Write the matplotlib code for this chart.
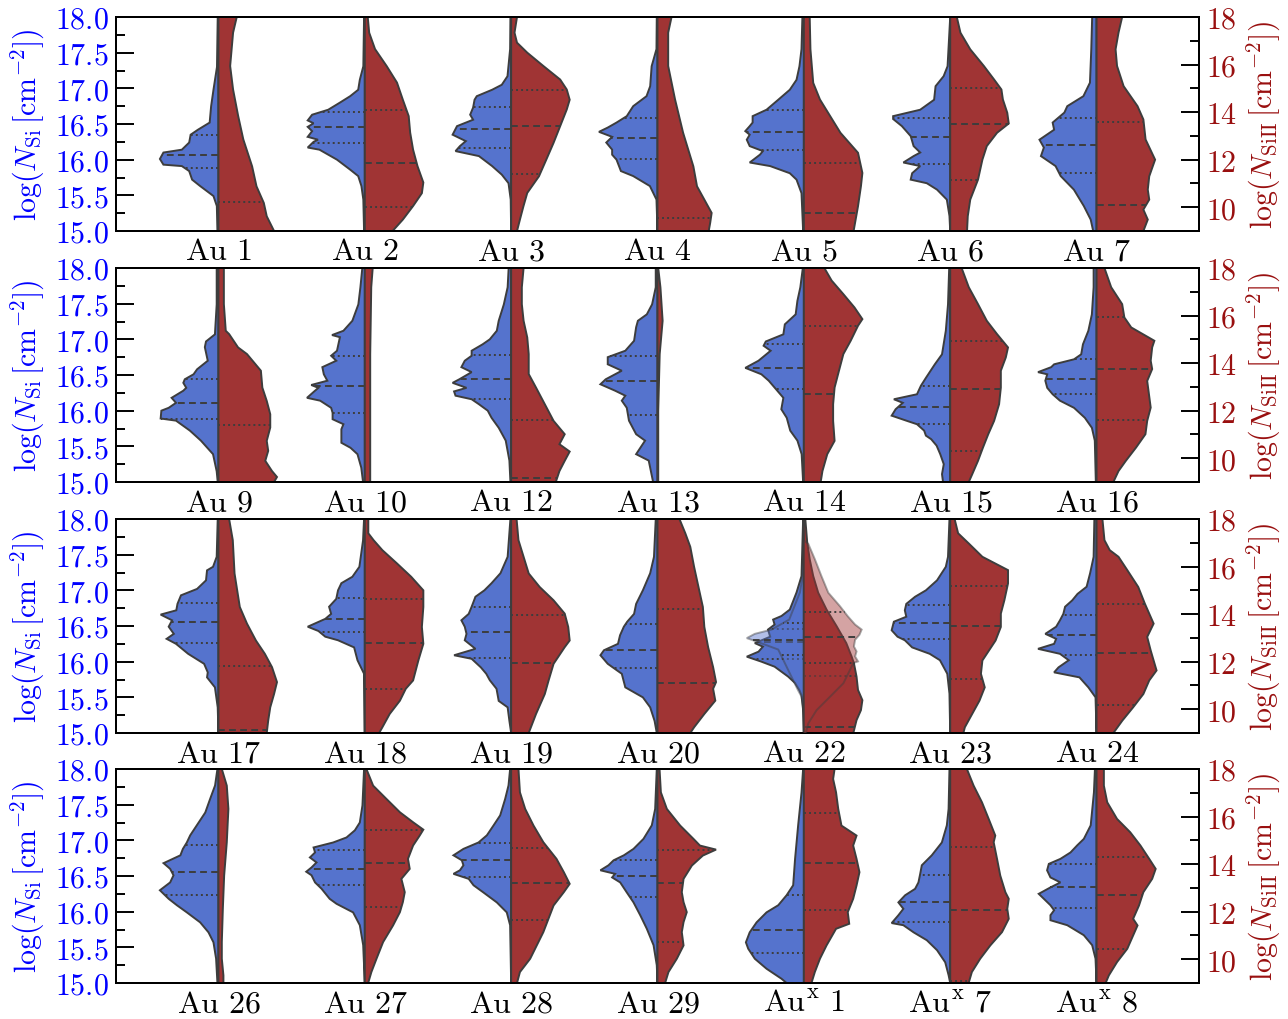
import numpy as np
import matplotlib.pyplot as plt
from matplotlib.ticker import MultipleLocator, FormatStrFormatter

plt.rcParams['mathtext.fontset'] = 'cm'
plt.rcParams['font.family'] = 'serif'
plt.rcParams['font.serif'] = ['DejaVu Serif']

nan = np.nan

# ---- violin outlines: (log N, half width) ----
# Si I in log N_SI (left axis), Si II in log N_SiII (right axis)
# quartiles: (q1, median, q3), nan where outside the axis range

au1_si = [(18.0,0.005),(17.3,0.01),(16.98,0.034),(16.75,0.05),(16.52,0.06),(16.42,0.14),(16.35,0.19),(16.24,0.2),(16.14,0.25),(16.10,0.376),(16.01,0.40),(15.93,0.376),(15.91,0.25),(15.84,0.2),(15.72,0.18),(15.63,0.125),(15.49,0.034),(15.35,0.011),(15.0,0.007)]
au1_si_q = (15.88, 16.06, 16.34)
au1_siii = [(18.0,0.125),(17.34,0.10),(15.94,0.08),(14.95,0.10),(13.83,0.135),(12.85,0.17),(11.72,0.23),(10.88,0.26),(10.18,0.31),(9.62,0.33),(9.0,0.38)]
au1_siii_q = (nan, nan, 10.2)

au2_si = [(18.0,0.005),(17.31,0.01),(17.12,0.034),(16.98,0.045),(16.89,0.10),(16.80,0.17),(16.70,0.25),(16.63,0.36),(16.55,0.39),(16.51,0.35),(16.46,0.39),(16.40,0.36),(16.32,0.39),(16.28,0.32),(16.25,0.35),(16.17,0.39),(16.14,0.31),(16.00,0.19),(15.86,0.10),(15.77,0.045),(15.63,0.023),(15.44,0.01),(15.0,0.005)]
au2_si_q = (16.24, 16.46, 16.67)
au2_siii = [(18.0,0.02),(17.34,0.03),(16.65,0.07),(15.93,0.15),(15.24,0.22),(14.52,0.26),(13.83,0.30),(13.14,0.31),(12.42,0.33),(11.73,0.36),(11.04,0.40),(10.59,0.39),(10.05,0.33),(9.48,0.26),(9.0,0.19)]
au2_siii_q = (10.02, 11.85, 14.1)

au3_si = [(18.0,0.005),(17.55,0.007),(17.17,0.025),(17.05,0.064),(16.98,0.13),(16.89,0.235),(16.84,0.25),(16.73,0.26),(16.63,0.28),(16.56,0.26),(16.47,0.37),(16.35,0.40),(16.26,0.31),(16.19,0.35),(16.12,0.38),(16.05,0.22),(15.91,0.13),(15.79,0.064),(15.67,0.018),(15.44,0.003),(15.0,0.0)]
au3_si_q = (16.17, 16.43, 16.74)
au3_siii = [(18.0,0.04),(17.34,0.023),(16.92,0.04),(16.50,0.11),(15.94,0.22),(15.37,0.335),(14.95,0.38),(14.52,0.40),(14.11,0.38),(13.41,0.335),(12.71,0.29),(12.0,0.24),(11.30,0.19),(10.60,0.11),(10.04,0.084),(9.48,0.06),(9.0,0.04)]
au3_siii_q = (11.40, 13.41, 14.91)

au4_si = [(18.0,0.005),(17.55,0.007),(17.31,0.04),(17.03,0.05),(16.89,0.075),(16.75,0.166),(16.61,0.21),(16.52,0.28),(16.45,0.34),(16.39,0.40),(16.32,0.31),(16.24,0.35),(16.14,0.31),(16.07,0.31),(16.0,0.28),(15.84,0.25),(15.77,0.166),(15.63,0.052),(15.44,0.007),(15.0,0.0)]
au4_si_q = (16.01, 16.30, 16.58)
au4_siii = [(18.0,0.096),(17.34,0.073),(15.94,0.073),(14.53,0.12),(13.13,0.175),(11.72,0.245),(10.88,0.27),(10.32,0.32),(9.76,0.37),(9.34,0.36),(9.0,0.35)]
au4_siii_q = (nan, nan, 9.53)

au5_si = [(18.0,0.01),(17.55,0.016),(17.31,0.03),(17.12,0.05),(16.98,0.096),(16.84,0.175),(16.70,0.255),(16.61,0.35),(16.52,0.35),(16.47,0.37),(16.40,0.40),(16.35,0.37),(16.28,0.39),(16.19,0.37),(16.12,0.28),(16.07,0.30),(15.96,0.37),(15.91,0.23),(15.81,0.096),(15.72,0.05),(15.53,0.016),(15.0,0.005)]
au5_si_q = (16.13, 16.39, 16.69)
au5_siii = [(18.0,0.04),(16.64,0.045),(15.23,0.064),(14.53,0.11),(13.83,0.18),(13.13,0.25),(12.71,0.31),(12.29,0.37),(11.44,0.40),(10.88,0.39),(10.04,0.37),(9.0,0.34)]
au5_siii_q = (nan, 9.76, 11.84)

au6_si = [(18.0,0.0),(17.31,0.018),(17.17,0.045),(17.03,0.10),(16.84,0.11),(16.70,0.205),(16.61,0.39),(16.57,0.39),(16.47,0.33),(16.33,0.27),(16.19,0.25),(16.10,0.205),(16.05,0.25),(15.96,0.32),(15.91,0.205),(15.81,0.26),(15.72,0.27),(15.67,0.16),(15.58,0.09),(15.44,0.023),(15.21,0.005),(15.0,0.0)]
au6_si_q = (15.94, 16.32, 16.58)
au6_siii = [(18.0,0.045),(17.34,0.07),(16.64,0.137),(15.94,0.23),(15.37,0.30),(14.95,0.35),(14.53,0.36),(13.97,0.39),(13.52,0.40),(13.13,0.32),(12.57,0.25),(12.0,0.22),(11.16,0.19),(10.32,0.137),(9.62,0.12),(9.0,0.115)]
au6_siii_q = (11.16, 13.52, 15.0)

au7_si = [(18.0,0.03),(17.55,0.036),(17.08,0.045),(16.89,0.09),(16.75,0.20),(16.66,0.22),(16.52,0.30),(16.42,0.29),(16.35,0.34),(16.28,0.39),(16.17,0.36),(16.05,0.38),(15.91,0.28),(15.77,0.245),(15.58,0.155),(15.35,0.087),(15.16,0.04),(15.0,0.023)]
au7_si_q = (15.81, 16.20, 16.59)
au7_siii = [(18.0,0.175),(17.34,0.15),(16.64,0.13),(15.94,0.14),(15.09,0.185),(14.25,0.28),(13.69,0.32),(12.85,0.335),(12.0,0.40),(11.30,0.36),(10.74,0.35),(10.32,0.36),(9.90,0.32),(9.48,0.35),(9.0,0.32)]
au7_siii_q = (nan, 10.11, 13.58)

au9_si = [(18.0,0.012),(17.49,0.012),(17.07,0.024),(16.97,0.085),(16.89,0.093),(16.70,0.073),(16.58,0.146),(16.51,0.17),(16.44,0.23),(16.39,0.24),(16.32,0.22),(16.28,0.24),(16.18,0.32),(16.11,0.29),(16.04,0.34),(16.0,0.39),(15.89,0.395),(15.86,0.29),(15.72,0.195),(15.58,0.12),(15.39,0.037),(15.15,0.012),(15.0,0.005)]
au9_si_q = (15.89, 16.11, 16.45)
au9_siii = [(18.0,0.037),(16.48,0.037),(15.36,0.05),(15.22,0.073),(14.66,0.134),(14.38,0.195),(13.68,0.29),(12.97,0.30),(12.41,0.33),(11.85,0.354),(11.29,0.354),(10.73,0.33),(10.31,0.34),(9.89,0.32),(9.46,0.366),(9.21,0.40),(9.0,0.38)]
au9_siii_q = (nan, nan, 11.39)

au10_si = [(18.0,0.017),(17.73,0.03),(17.49,0.044),(17.26,0.085),(17.12,0.146),(17.06,0.224),(17.03,0.17),(16.84,0.19),(16.77,0.23),(16.70,0.195),(16.61,0.29),(16.51,0.28),(16.42,0.256),(16.36,0.366),(16.32,0.317),(16.28,0.34),(16.18,0.395),(16.14,0.305),(16.04,0.23),(15.97,0.22),(15.88,0.22),(15.81,0.146),(15.74,0.16),(15.55,0.16),(15.48,0.098),(15.39,0.05),(15.20,0.024),(15.0,0.012)]
au10_si_q = (15.97, 16.34, 16.77)
au10_siii = [(18.0,0.054),(17.19,0.044),(14.38,0.037),(11.57,0.037),(9.0,0.037)]
au10_siii_q = (nan, nan, nan)

au12_si = [(18.0,0.017),(17.73,0.024),(17.49,0.05),(17.26,0.085),(17.12,0.098),(17.0,0.146),(16.93,0.195),(16.84,0.27),(16.77,0.27),(16.70,0.317),(16.61,0.34),(16.54,0.27),(16.44,0.354),(16.39,0.40),(16.32,0.305),(16.27,0.39),(16.21,0.38),(16.16,0.27),(16.09,0.22),(16.0,0.16),(15.90,0.134),(15.76,0.085),(15.58,0.037),(15.30,0.012),(15.0,0.005)]
au12_si_q = (16.16, 16.45, 16.78)
au12_siii = [(18.0,0.085),(17.19,0.073),(16.48,0.073),(15.78,0.085),(15.08,0.11),(14.38,0.12),(13.54,0.12),(12.97,0.17),(12.27,0.23),(11.57,0.29),(11.01,0.366),(10.59,0.33),(10.28,0.40),(9.89,0.366),(9.46,0.33),(9.0,0.305)]
au12_siii_q = (nan, 9.18, 11.61)

au13_si = [(18.0,0.012),(17.73,0.012),(17.49,0.037),(17.35,0.073),(17.26,0.134),(17.17,0.146),(16.98,0.16),(16.84,0.22),(16.75,0.34),(16.65,0.34),(16.56,0.244),(16.44,0.354),(16.37,0.39),(16.28,0.29),(16.21,0.22),(16.14,0.244),(16.04,0.21),(15.86,0.195),(15.67,0.146),(15.58,0.085),(15.39,0.146),(15.30,0.06),(15.0,0.03)]
au13_si_q = (15.94, 16.42, 16.76)
au13_siii = [(18.0,0.005),(17.19,0.02),(15.78,0.035),(14.38,0.015),(12.0,0.005),(9.0,0.005)]
au13_siii_q = (nan, nan, nan)

au14_si = [(18.0,0.007),(17.73,0.024),(17.54,0.044),(17.35,0.056),(17.21,0.13),(17.07,0.14),(16.97,0.26),(16.91,0.275),(16.84,0.227),(16.70,0.31),(16.60,0.40),(16.51,0.29),(16.42,0.24),(16.30,0.19),(16.18,0.14),(16.02,0.154),(15.90,0.117),(15.72,0.093),(15.58,0.044),(15.39,0.015),(15.0,0.005)]
au14_si_q = (16.30, 16.60, 16.93)
au14_siii = [(18.0,0.14),(17.47,0.19),(16.90,0.27),(16.34,0.346),(15.85,0.40),(15.57,0.37),(14.94,0.32),(14.38,0.27),(13.68,0.24),(12.97,0.21),(12.27,0.20),(11.57,0.20),(10.73,0.21),(10.17,0.16),(9.46,0.127),(9.0,0.115)]
au14_siii_q = (nan, 12.69, 15.54)

au15_si = [(18.0,0.007),(17.49,0.015),(17.12,0.03),(16.79,0.056),(16.65,0.105),(16.46,0.166),(16.35,0.20),(16.23,0.227),(16.16,0.385),(16.11,0.324),(16.02,0.373),(15.93,0.40),(15.86,0.30),(15.81,0.227),(15.72,0.178),(15.65,0.166),(15.60,0.13),(15.51,0.093),(15.39,0.068),(15.25,0.044),(15.11,0.056),(15.0,0.049)]
au15_si_q = (15.81, 16.05, 16.35)
au15_siii = [(18.0,0.078),(17.19,0.127),(16.48,0.19),(15.78,0.25),(15.22,0.32),(14.66,0.395),(14.24,0.38),(13.68,0.346),(12.97,0.346),(12.27,0.334),(11.57,0.30),(11.01,0.26),(10.45,0.224),(9.89,0.19),(9.32,0.15),(9.0,0.127)]
au15_siii_q = (10.31, 12.90, 14.91)

au16_si = [(18.0,0.02),(17.73,0.02),(17.35,0.032),(17.12,0.056),(16.93,0.093),(16.79,0.105),(16.72,0.154),(16.65,0.29),(16.61,0.31),(16.54,0.40),(16.51,0.337),(16.42,0.35),(16.32,0.337),(16.23,0.30),(16.14,0.25),(16.04,0.154),(15.90,0.08),(15.76,0.032),(15.58,0.012),(15.0,0.005)]
au16_si_q = (16.23, 16.45, 16.72)
au16_siii = [(18.0,0.054),(17.19,0.10),(16.48,0.175),(15.92,0.19),(15.50,0.237),(14.94,0.395),(14.66,0.38),(14.10,0.37),(13.75,0.38),(13.25,0.346),(12.69,0.358),(12.13,0.37),(11.57,0.346),(11.01,0.334),(10.45,0.27),(9.89,0.20),(9.46,0.15),(9.0,0.115)]
au16_siii_q = (11.60, 13.75, 15.95)

au17_si = [(18.0,0.005),(17.47,0.012),(17.33,0.037),(17.28,0.078),(17.14,0.085),(17.02,0.146),(16.93,0.256),(16.81,0.28),(16.72,0.288),(16.66,0.395),(16.58,0.317),(16.49,0.34),(16.39,0.305),(16.32,0.354),(16.25,0.29),(16.11,0.207),(15.97,0.098),(15.85,0.073),(15.78,0.078),(15.64,0.024),(15.36,0.005),(15.0,0.0)]
au17_si_q = (16.26, 16.55, 16.82)
au17_siii = [(18.0,0.073),(17.11,0.098),(15.71,0.11),(14.30,0.146),(13.60,0.195),(12.89,0.256),(12.33,0.317),(11.77,0.366),(11.14,0.40),(10.64,0.38),(10.08,0.354),(9.52,0.34),(9.0,0.33)]
au17_siii_q = (nan, 9.13, 11.83)

au18_si = [(18.0,0.005),(17.70,0.012),(17.33,0.037),(17.19,0.085),(17.10,0.16),(17.0,0.183),(16.88,0.195),(16.77,0.244),(16.67,0.23),(16.60,0.27),(16.49,0.39),(16.43,0.317),(16.35,0.27),(16.30,0.183),(16.20,0.073),(16.02,0.05),(15.83,0.005),(15.0,0.0)]
au18_si_q = (16.42, 16.60, 16.89)
au18_siii = [(18.0,0.024),(17.40,0.024),(17.11,0.06),(16.69,0.12),(16.13,0.22),(15.57,0.317),(15.0,0.40),(14.30,0.40),(13.46,0.39),(12.75,0.40),(12.05,0.366),(11.21,0.33),(10.86,0.28),(10.36,0.24),(9.80,0.17),(9.24,0.12),(9.0,0.098)]
au18_siii_q = (10.86, 12.80, 14.65)

au19_si = [(18.0,0.005),(17.47,0.024),(17.24,0.073),(17.10,0.134),(17.0,0.183),(16.91,0.244),(16.77,0.27),(16.67,0.29),(16.58,0.34),(16.49,0.317),(16.39,0.305),(16.30,0.317),(16.18,0.244),(16.09,0.39),(16.04,0.27),(15.92,0.207),(15.83,0.17),(15.74,0.146),(15.62,0.10),(15.45,0.085),(15.36,0.024),(15.17,0.012),(15.0,0.0)]
au19_si_q = (16.05, 16.42, 16.76)
au19_siii = [(18.0,0.037),(17.11,0.05),(16.41,0.085),(15.71,0.12),(15.14,0.195),(14.58,0.29),(14.02,0.366),(13.46,0.39),(12.89,0.40),(12.61,0.366),(11.91,0.29),(11.21,0.256),(10.64,0.23),(9.80,0.17),(9.0,0.12)]
au19_siii_q = (nan, 11.94, 13.98)

au20_si = [(18.0,0.012),(17.47,0.024),(17.24,0.05),(17.0,0.10),(16.81,0.146),(16.67,0.16),(16.56,0.207),(16.49,0.23),(16.37,0.256),(16.25,0.27),(16.16,0.366),(16.09,0.39),(15.97,0.34),(15.83,0.244),(15.64,0.22),(15.50,0.10),(15.36,0.05),(15.17,0.02),(15.0,0.005)]
au20_si_q = (15.91, 16.17, 16.53)
au20_siii = [(18.0,0.15),(17.40,0.19),(16.83,0.224),(15.99,0.25),(15.0,0.285),(14.30,0.31),(13.46,0.32),(12.61,0.346),(11.77,0.38),(11.14,0.40),(10.86,0.38),(10.36,0.395),(9.80,0.32),(9.24,0.25),(9.0,0.224)]
au20_siii_q = (nan, 11.11, 14.20)

au22_si = [(18.0,0.005),(17.20,0.016),(16.97,0.05),(16.73,0.096),(16.64,0.153),(16.59,0.21),(16.52,0.20),(16.45,0.245),(16.35,0.23),(16.26,0.335),(16.21,0.28),(16.14,0.31),(16.07,0.39),(16.0,0.29),(15.93,0.2),(15.79,0.107),(15.70,0.06),(15.60,0.03),(15.53,0.016),(15.32,0.005),(15.0,0.0)]
au22_si_q = (16.04, 16.28, 16.46)
au22_siii = [(18.0,0.01),(17.01,0.023),(16.31,0.04),(15.60,0.064),(14.90,0.098),(14.19,0.155),(13.49,0.224),(12.78,0.29),(12.22,0.326),(11.94,0.342),(11.37,0.36),(10.81,0.37),(10.38,0.40),(9.96,0.39),(9.54,0.36),(9.0,0.338)]
au22_siii_q = (nan, 9.25, 11.41)
# second (faint) sample overplotted for Au 22
au22b_si = [(17.3,0.0),(16.97,0.027),(16.59,0.1),(16.45,0.22),(16.39,0.335),(16.33,0.39),(16.28,0.32),(16.17,0.175),(15.98,0.13),(15.79,0.085),(15.60,0.04),(15.51,0.016),(15.3,0.0)]
au22b_si_q = (16.10, 16.30, 16.54)
au22b_siii = [(17.1,0.0),(16.96,0.03),(16.31,0.075),(15.60,0.12),(14.90,0.167),(14.33,0.247),(13.91,0.30),(13.56,0.35),(13.35,0.395),(13.13,0.38),(12.92,0.35),(12.64,0.342),(12.43,0.36),(12.22,0.35),(12.01,0.37),(11.94,0.338),(11.65,0.315),(11.09,0.27),(10.52,0.178),(9.96,0.087),(9.40,0.03),(9.0,0.014)]
au22b_siii_q = (11.96, 13.04, 14.08)

au23_si = [(18.0,0.005),(17.47,0.015),(17.33,0.03),(17.14,0.09),(17.0,0.166),(16.91,0.24),(16.81,0.30),(16.72,0.31),(16.63,0.30),(16.56,0.385),(16.44,0.40),(16.35,0.36),(16.30,0.31),(16.20,0.26),(16.11,0.14),(16.02,0.07),(15.83,0.02),(15.55,0.005),(15.0,0.0)]
au23_si_q = (16.32, 16.54, 16.80)
au23_siii = [(18.0,0.03),(17.40,0.054),(16.97,0.127),(16.41,0.22),(15.85,0.395),(15.29,0.395),(14.58,0.37),(14.02,0.346),(13.46,0.346),(12.89,0.31),(12.05,0.22),(11.49,0.21),(10.92,0.236),(10.36,0.20),(9.80,0.15),(9.24,0.10),(9.0,0.09)]
au23_siii_q = (11.28, 13.49, 15.19)

au24_si = [(18.0,0.015),(17.47,0.02),(17.24,0.044),(17.05,0.068),(16.95,0.13),(16.86,0.166),(16.77,0.215),(16.67,0.227),(16.58,0.25),(16.49,0.276),(16.39,0.35),(16.32,0.276),(16.25,0.29),(16.18,0.40),(16.11,0.25),(16.02,0.19),(15.92,0.26),(15.85,0.29),(15.78,0.117),(15.64,0.056),(15.50,0.007),(15.0,0.0)]
au24_si_q = (16.10, 16.37, 16.66)
au24_siii = [(18.0,0.04),(17.11,0.054),(16.69,0.09),(16.41,0.15),(15.85,0.21),(15.14,0.285),(14.44,0.33),(13.60,0.39),(13.04,0.346),(12.47,0.37),(11.63,0.41),(11.21,0.36),(10.64,0.32),(10.08,0.25),(9.52,0.176),(9.0,0.115)]
au24_siii_q = (10.19, 12.37, 14.44)

au26_si = [(18.0,0.007),(17.77,0.023),(17.58,0.057),(17.39,0.09),(17.21,0.148),(17.07,0.193),(16.97,0.216),(16.88,0.243),(16.79,0.26),(16.68,0.375),(16.60,0.33),(16.51,0.307),(16.41,0.33),(16.30,0.40),(16.18,0.34),(16.09,0.284),(15.99,0.216),(15.85,0.125),(15.71,0.068),(15.57,0.034),(15.34,0.016),(15.0,0.007)]
au26_si_q = (16.23, 16.56, 16.94)
au26_siii = [(18.0,0.023),(17.30,0.057),(16.32,0.068),(14.92,0.057),(13.52,0.039),(12.12,0.03),(10.72,0.023),(10.02,0.023),(9.32,0.034),(9.0,0.034)]
au26_siii_q = (nan, nan, nan)

au27_si = [(18.0,0.005),(17.49,0.016),(17.25,0.034),(17.14,0.068),(17.04,0.125),(16.97,0.216),(16.90,0.35),(16.83,0.34),(16.76,0.375),(16.69,0.33),(16.62,0.364),(16.56,0.40),(16.51,0.364),(16.41,0.34),(16.32,0.295),(16.18,0.24),(16.11,0.193),(15.99,0.08),(15.81,0.034),(15.53,0.011),(15.0,0.0)]
au27_si_q = (16.37, 16.60, 16.87)
au27_siii = [(18.0,0.011),(17.30,0.057),(16.74,0.148),(16.18,0.24),(15.76,0.33),(15.45,0.40),(15.20,0.375),(14.78,0.33),(14.22,0.295),(13.80,0.307),(13.38,0.25),(12.82,0.273),(12.40,0.26),(11.98,0.24),(11.42,0.193),(10.72,0.125),(10.02,0.08),(9.46,0.045),(9.0,0.023)]
au27_siii_q = (12.19, 14.05, 15.44)

au28_si = [(18.0,0.007),(17.77,0.018),(17.58,0.041),(17.35,0.075),(17.21,0.12),(17.07,0.166),(16.97,0.223),(16.88,0.326),(16.79,0.394),(16.72,0.337),(16.65,0.326),(16.58,0.35),(16.53,0.394),(16.46,0.29),(16.37,0.257),(16.27,0.19),(16.13,0.098),(15.99,0.03),(15.81,0.007),(15.0,0.0)]
au28_si_q = (16.48, 16.72, 16.96)
au28_siii = [(18.0,0.05),(17.02,0.06),(16.32,0.096),(15.62,0.153),(14.92,0.22),(14.22,0.31),(13.66,0.36),(13.17,0.40),(12.82,0.36),(12.26,0.29),(11.70,0.255),(11.14,0.22),(10.58,0.175),(10.02,0.13),(9.46,0.06),(9.0,0.04)]
au28_siii_q = (11.67, 13.20, 14.67)

au29_si = [(18.0,0.005),(17.44,0.016),(17.21,0.039),(17.02,0.096),(16.88,0.164),(16.79,0.23),(16.72,0.30),(16.65,0.335),(16.58,0.39),(16.53,0.29),(16.48,0.31),(16.41,0.255),(16.27,0.21),(16.13,0.164),(15.95,0.118),(15.76,0.073),(15.53,0.027),(15.25,0.005),(15.0,0.0)]
au29_si_q = (16.21, 16.50, 16.73)
au29_siii = [(18.0,0.014),(17.02,0.023),(16.32,0.064),(15.62,0.155),(15.06,0.246),(14.78,0.29),(14.61,0.40),(14.36,0.31),(13.94,0.235),(13.38,0.178),(12.82,0.166),(12.40,0.178),(11.98,0.20),(11.56,0.178),(11.14,0.166),(10.58,0.178),(10.02,0.132),(9.46,0.075),(9.0,0.052)]
au29_siii_q = (10.72, 13.20, 14.61)

aux1_si = [(18.0,0.005),(17.67,0.016),(17.21,0.039),(16.74,0.06),(16.37,0.073),(16.23,0.118),(16.09,0.175),(15.99,0.255),(15.85,0.323),(15.71,0.37),(15.57,0.396),(15.48,0.38),(15.34,0.335),(15.20,0.255),(15.06,0.153),(15.0,0.118)]
aux1_si_q = (15.42, 15.74, 16.24)
aux1_siii = [(18.0,0.21),(17.58,0.20),(17.02,0.22),(16.32,0.235),(15.62,0.257),(15.20,0.36),(14.78,0.337),(14.22,0.36),(13.66,0.38),(13.10,0.36),(12.54,0.337),(11.98,0.30),(11.49,0.31),(11.28,0.22),(10.58,0.155),(10.02,0.11),(9.46,0.075),(9.0,0.052)]
aux1_siii_q = (12.09, 14.05, 16.14)

aux7_si = [(18.0,0.005),(17.44,0.011),(17.21,0.023),(16.97,0.057),(16.79,0.126),(16.65,0.194),(16.53,0.205),(16.41,0.217),(16.32,0.24),(16.23,0.308),(16.13,0.354),(16.04,0.32),(15.95,0.354),(15.84,0.40),(15.81,0.32),(15.71,0.25),(15.60,0.16),(15.46,0.09),(15.29,0.034),(15.11,0.011),(15.0,0.0)]
aux7_si_q = (15.86, 16.13, 16.52)
aux7_siii = [(18.0,0.114),(17.30,0.16),(16.60,0.217),(15.90,0.263),(15.20,0.308),(14.92,0.297),(14.22,0.32),(13.52,0.342),(12.82,0.377),(12.54,0.40),(12.12,0.39),(11.70,0.40),(11.14,0.354),(10.58,0.274),(10.02,0.205),(9.46,0.148),(9.0,0.126)]
aux7_siii_q = (9.07, 12.09, 14.71)

aux8_si = [(18.0,0.011),(17.67,0.018),(17.21,0.04),(17.02,0.087),(16.93,0.132),(16.83,0.178),(16.74,0.247),(16.67,0.326),(16.58,0.338),(16.48,0.315),(16.41,0.247),(16.34,0.315),(16.25,0.395),(16.18,0.36),(16.09,0.315),(16.02,0.29),(15.95,0.315),(15.88,0.315),(15.81,0.2),(15.67,0.087),(15.53,0.03),(15.34,0.007),(15.0,0.0)]
aux8_si_q = (16.05, 16.34, 16.67)
aux8_siii = [(18.0,0.05),(17.30,0.05),(16.60,0.073),(15.90,0.14),(15.34,0.23),(14.78,0.30),(14.22,0.36),(13.80,0.404),(13.38,0.38),(12.82,0.32),(12.26,0.29),(11.70,0.25),(11.42,0.28),(11.0,0.25),(10.44,0.21),(9.88,0.14),(9.32,0.084),(9.0,0.062)]
aux8_siii_q = (10.41, 12.68, 14.29)

row1_names = ['Au 1', 'Au 2', 'Au 3', 'Au 4', 'Au 5', 'Au 6', 'Au 7']
row2_names = ['Au 9', 'Au 10', 'Au 12', 'Au 13', 'Au 14', 'Au 15', 'Au 16']
row3_names = ['Au 17', 'Au 18', 'Au 19', 'Au 20', 'Au 22', 'Au 23', 'Au 24']
row4_names = ['Au 26', 'Au 27', 'Au 28', 'Au 29', 'Aux 1', 'Aux 7', 'Aux 8']

rows = [
    (row1_names,
     [au1_si, au2_si, au3_si, au4_si, au5_si, au6_si, au7_si],
     [au1_si_q, au2_si_q, au3_si_q, au4_si_q, au5_si_q, au6_si_q, au7_si_q],
     [au1_siii, au2_siii, au3_siii, au4_siii, au5_siii, au6_siii, au7_siii],
     [au1_siii_q, au2_siii_q, au3_siii_q, au4_siii_q, au5_siii_q, au6_siii_q, au7_siii_q]),
    (row2_names,
     [au9_si, au10_si, au12_si, au13_si, au14_si, au15_si, au16_si],
     [au9_si_q, au10_si_q, au12_si_q, au13_si_q, au14_si_q, au15_si_q, au16_si_q],
     [au9_siii, au10_siii, au12_siii, au13_siii, au14_siii, au15_siii, au16_siii],
     [au9_siii_q, au10_siii_q, au12_siii_q, au13_siii_q, au14_siii_q, au15_siii_q, au16_siii_q]),
    (row3_names,
     [au17_si, au18_si, au19_si, au20_si, au22_si, au23_si, au24_si],
     [au17_si_q, au18_si_q, au19_si_q, au20_si_q, au22_si_q, au23_si_q, au24_si_q],
     [au17_siii, au18_siii, au19_siii, au20_siii, au22_siii, au23_siii, au24_siii],
     [au17_siii_q, au18_siii_q, au19_siii_q, au20_siii_q, au22_siii_q, au23_siii_q, au24_siii_q]),
    (row4_names,
     [au26_si, au27_si, au28_si, au29_si, aux1_si, aux7_si, aux8_si],
     [au26_si_q, au27_si_q, au28_si_q, au29_si_q, aux1_si_q, aux7_si_q, aux8_si_q],
     [au26_siii, au27_siii, au28_siii, au29_siii, aux1_siii, aux7_siii, aux8_siii],
     [au26_siii_q, au27_siii_q, au28_siii_q, au29_siii_q, aux1_siii_q, aux7_siii_q, aux8_siii_q]),
]

BLUE = '#5573cd'
RED = '#a03434'
EDGE = '#3d3d3d'


def half_violin(ax, pos, prof, side, fc, alpha=1.0, z=2):
    y = np.array([p[0] for p in prof])
    w = np.array([p[1] for p in prof])
    xs = np.r_[pos, pos + side * w, pos]
    ys = np.r_[y[0], y, y[-1]]
    ax.fill(xs, ys, facecolor=fc, edgecolor=EDGE, linewidth=1.4,
            alpha=alpha, zorder=z)


def quartiles(ax, pos, prof, q, side, z=3):
    y = np.array([p[0] for p in prof])
    w = np.array([p[1] for p in prof])
    order = np.argsort(y)
    styles = [(0, (1.0, 1.6)), (0, (3.5, 2.2)), (0, (1.0, 1.6))]
    for val, ls in zip(q, styles):
        if np.isnan(val):
            continue
        wq = np.interp(val, y[order], w[order])
        ax.plot([pos, pos + side * wq], [val, val], ls=ls, color=EDGE,
                lw=1.4, zorder=z, solid_capstyle='butt')


def tick_label(name):
    if name.startswith('Aux'):
        return r'$\mathrm{Au}^{\mathrm{x}}\ \mathrm{%s}$' % name.split()[1]
    return r'$\mathrm{Au}\ \mathrm{%s}$' % name.split()[1]


fig = plt.figure(figsize=(12.88, 10.2), dpi=100)

left, width, height = 116 / 1288, 1083 / 1288, 214 / 1020
bottoms = [1 - 232 / 1020, 1 - 483 / 1020, 1 - 734 / 1020, 1 - 984 / 1020]

for r, (names, si, si_q, siii, siii_q) in enumerate(rows):
    ax = fig.add_axes([left, bottoms[r], width, height])
    ax2 = ax.twinx()
    for i in range(7):
        half_violin(ax, i, si[i], -1, BLUE)
        quartiles(ax, i, si[i], si_q[i], -1)
        half_violin(ax2, i, siii[i], 1, RED)
        quartiles(ax2, i, siii[i], siii_q[i], 1)
        if names[i] == 'Au 22':
            half_violin(ax, i, au22b_si, -1, BLUE, alpha=0.45, z=4)
            quartiles(ax, i, au22b_si, au22b_si_q, -1, z=5)
            half_violin(ax2, i, au22b_siii, 1, RED, alpha=0.45, z=4)
            quartiles(ax2, i, au22b_siii, au22b_siii_q, 1, z=5)

    ax.set_xlim(-0.7, 6.7)
    ax.set_ylim(15.0, 18.0)
    ax2.set_ylim(9.0, 18.0)

    ax.set_xticks(range(7))
    ax.set_xticklabels([tick_label(n) for n in names], fontsize=23)
    ax.tick_params(axis='x', length=0, pad=3)

    ax.yaxis.set_major_locator(MultipleLocator(0.5))
    ax.yaxis.set_minor_locator(MultipleLocator(0.25))
    ax.yaxis.set_major_formatter(FormatStrFormatter(r'$%.1f$'))
    ax.tick_params(axis='y', which='both', direction='in', left=True,
                   right=False, labelcolor='blue', labelsize=21.5, width=1.4,
                   pad=5)
    ax.tick_params(axis='y', which='major', length=13)
    ax.tick_params(axis='y', which='minor', length=6.5)

    ax2.yaxis.set_major_locator(MultipleLocator(2))
    ax2.yaxis.set_minor_locator(MultipleLocator(1))
    ax2.yaxis.set_major_formatter(FormatStrFormatter(r'$%d$'))
    ax2.tick_params(axis='y', which='both', direction='in', right=True,
                    left=False, labelcolor='#990f0f', labelsize=21.5, width=1.4,
                    pad=5)
    ax2.tick_params(axis='y', which='major', length=13)
    ax2.tick_params(axis='y', which='minor', length=6.5)

    for a in (ax, ax2):
        for s in a.spines.values():
            s.set_linewidth(1.4)

    ax.set_ylabel(r'$\log(N_{\mathrm{Si}}\,[\mathrm{cm}^{-2}])$',
                  color='blue', fontsize=21.5)
    ax.yaxis.set_label_coords(-0.064, 0.5)
    ax2.set_ylabel(r'$\log(N_{\mathrm{SiII}}\,[\mathrm{cm}^{-2}])$',
                   color='#990f0f', fontsize=21.5)
    ax2.yaxis.set_label_coords(1.042, 0.5)

fig.savefig('out.png', dpi=100)
